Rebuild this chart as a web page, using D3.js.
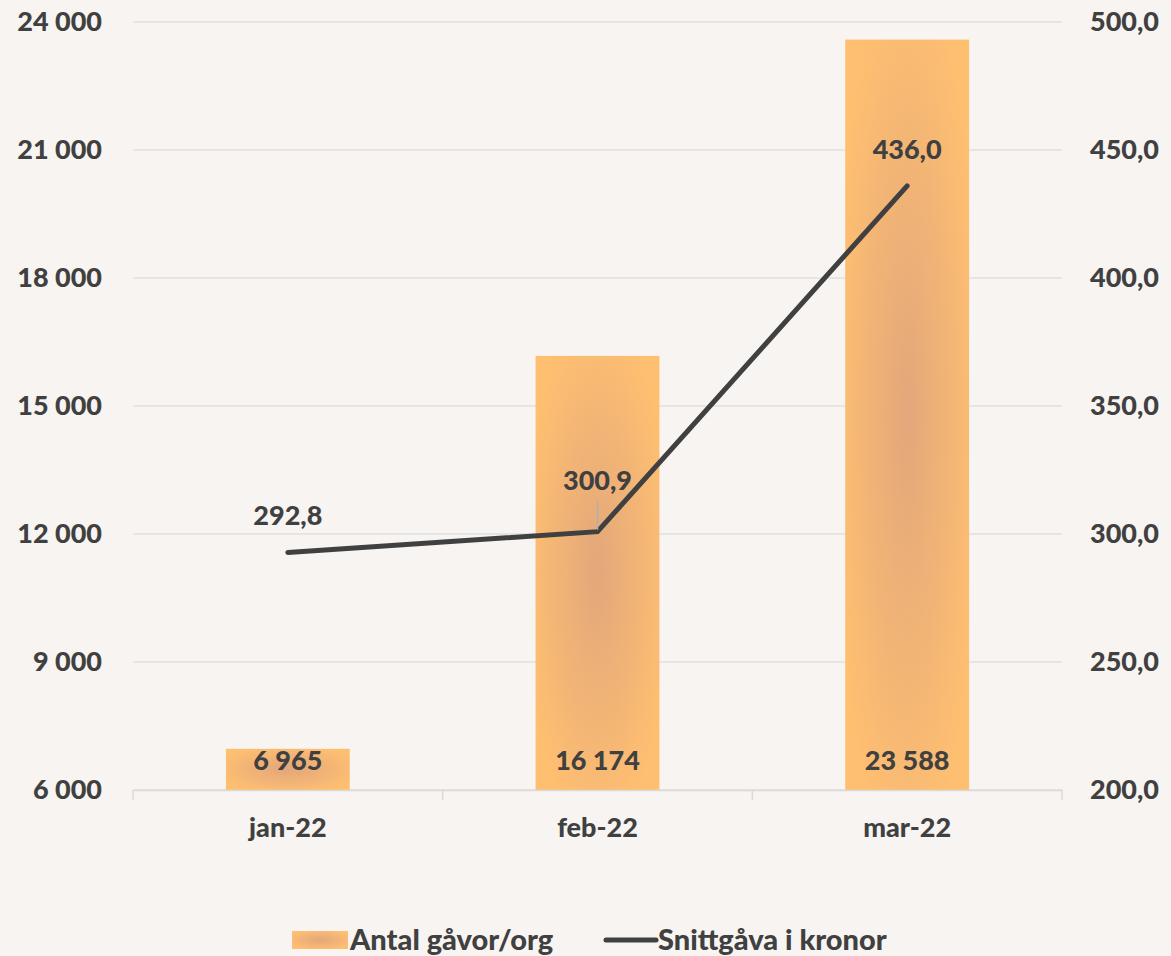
<!DOCTYPE html>
<html lang="sv">
<head>
  <meta charset="UTF-8">
  <title>Antal gåvor och snittgåva</title>
  <script src="https://d3js.org/d3.v7.min.js"></script>
  <style>
    html, body { margin: 0; padding: 0; background: #f7f4f1; }
    text { font-family: Lato, "Open Sans", sans-serif; font-weight: 900; fill: #404040; }
  </style>
</head>
<body>
  <div id="chart"></div>
  <script>
    // data
    const manader = ["jan-22", "feb-22", "mar-22"];
    const antalGavor = [6965, 16174, 23588];
    const snittgava = [292.8, 300.9, 436.0];
    const vansterTicks = [6000, 9000, 12000, 15000, 18000, 21000, 24000];
    const hogerTicks = [200, 250, 300, 350, 400, 450, 500];

    const ancho = 1171, alto = 956;
    const margen = { top: 22, right: 109, bottom: 166, left: 133 };
    const fs = "27px";

    const svg = d3.select("#chart").append("svg")
      .attr("width", ancho).attr("height", alto);

    const defs = svg.append("defs");
    const grad = defs.append("radialGradient").attr("id", "barGrad")
      .attr("cx", "50%").attr("cy", "50%").attr("r", "60%");
    grad.append("stop").attr("offset", "0%").attr("stop-color", "#e2a77b");
    grad.append("stop").attr("offset", "100%").attr("stop-color", "#ffbf71");

    const x = d3.scaleBand().domain(manader)
      .range([margen.left, ancho - margen.right]).paddingInner(0.6).paddingOuter(0.3);
    const xBand = d3.scaleBand().domain(manader)
      .range([margen.left, ancho - margen.right]);
    const yV = d3.scaleLinear().domain([6000, 24000]).range([alto - margen.bottom, margen.top]);
    const yH = d3.scaleLinear().domain([200, 500]).range([alto - margen.bottom, margen.top]);

    const fmtNum = n => d3.format(",")(n).replace(/,/g, " ");
    const fmtDec = n => d3.format(".1f")(n).replace(".", ",");

    // grid
    svg.append("g").selectAll("line").data(vansterTicks).join("line")
      .attr("x1", margen.left).attr("x2", ancho - margen.right)
      .attr("y1", d => yV(d)).attr("y2", d => yV(d))
      .attr("stroke", "#e2e0de").attr("stroke-width", 1.5);

    // bars
    svg.append("g").selectAll("rect").data(antalGavor).join("rect")
      .attr("x", (d, i) => x(manader[i]))
      .attr("width", x.bandwidth())
      .attr("y", d => yV(d))
      .attr("height", d => yV(6000) - yV(d))
      .attr("fill", "url(#barGrad)");

    // x axis
    const ejeX = svg.append("g").attr("transform", `translate(0,${yV(6000)})`)
      .call(d3.axisBottom(xBand).tickSize(0).tickPadding(28));
    ejeX.select(".domain").attr("stroke", "#dcdad8").attr("stroke-width", 1.5);
    ejeX.selectAll("text").style("font-size", fs);
    svg.append("g").selectAll("line").data(manader.concat([null])).join("line")
      .attr("x1", (d, i) => margen.left + i * xBand.step())
      .attr("x2", (d, i) => margen.left + i * xBand.step())
      .attr("y1", yV(6000)).attr("y2", yV(6000) + 10)
      .attr("stroke", "#dcdad8").attr("stroke-width", 1.5);

    // left axis
    const ejeV = svg.append("g").attr("transform", `translate(${margen.left},0)`)
      .call(d3.axisLeft(yV).tickValues(vansterTicks).tickFormat(fmtNum).tickSize(0).tickPadding(31));
    ejeV.select(".domain").remove();
    ejeV.selectAll("text").style("font-size", fs);

    // right axis
    const ejeH = svg.append("g").attr("transform", `translate(${ancho - margen.right},0)`)
      .call(d3.axisRight(yH).tickValues(hogerTicks).tickFormat(fmtDec).tickSize(0).tickPadding(28));
    ejeH.select(".domain").remove();
    ejeH.selectAll("text").style("font-size", fs);

    // bar labels
    svg.append("g").selectAll("text").data(antalGavor).join("text")
      .attr("x", (d, i) => xBand(manader[i]) + xBand.bandwidth() / 2)
      .attr("y", yV(6000) - 20)
      .attr("text-anchor", "middle")
      .style("font-size", fs)
      .text(d => fmtNum(d));

    // line
    const cx = i => xBand(manader[i]) + xBand.bandwidth() / 2;
    const linea = d3.line().x((d, i) => cx(i)).y(d => yH(d));
    svg.append("path").datum(snittgava)
      .attr("d", linea)
      .attr("fill", "none").attr("stroke", "#404040")
      .attr("stroke-width", 5).attr("stroke-linecap", "round");

    // leader line for feb label
    svg.append("line")
      .attr("x1", cx(1)).attr("x2", cx(1))
      .attr("y1", yH(snittgava[1]) - 2).attr("y2", yH(snittgava[1]) - 30)
      .attr("stroke", "#b0b0b0").attr("stroke-width", 1.5);

    const etiquetaOffset = [[0, -27], [0, -42], [0, -27]];
    svg.append("g").selectAll("text").data(snittgava).join("text")
      .attr("x", (d, i) => cx(i) + etiquetaOffset[i][0])
      .attr("y", (d, i) => yH(d) + etiquetaOffset[i][1])
      .attr("text-anchor", "middle")
      .style("font-size", fs)
      .text(d => fmtDec(d));

    // legend
    const ley = svg.append("g").attr("transform", "translate(0,940)");
    ley.append("rect").attr("x", 292).attr("y", -9).attr("width", 56).attr("height", 18)
      .attr("fill", "url(#barGrad)");
    ley.append("text").attr("x", 350).attr("y", 10).style("font-size", "29px").text("Antal gåvor/org");
    ley.append("line").attr("x1", 606).attr("x2", 656).attr("y1", 0).attr("y2", 0)
      .attr("stroke", "#404040").attr("stroke-width", 5).attr("stroke-linecap", "round");
    ley.append("text").attr("x", 658).attr("y", 10).style("font-size", "29px").text("Snittgåva i kronor");
  </script>
</body>
</html>
